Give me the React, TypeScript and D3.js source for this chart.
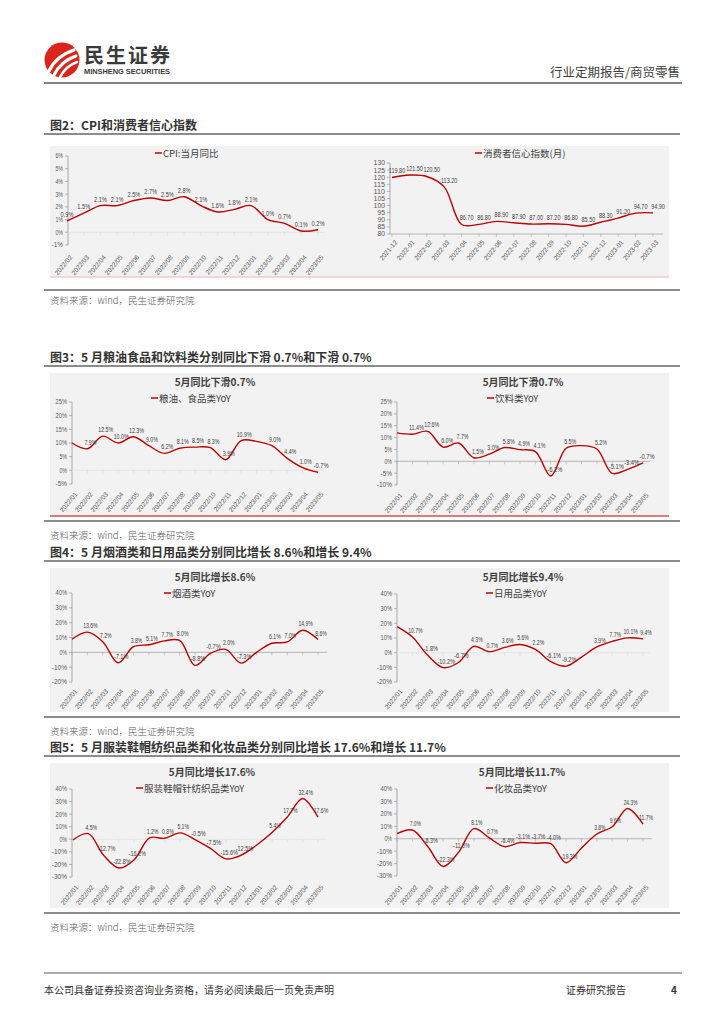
import React from "react";
import * as d3 from "d3";

// ---- data ----
const cpiMonths = ["2022/02", "2022/03", "2022/04", "2022/05", "2022/06", "2022/07", "2022/08", "2022/09", "2022/10", "2022/11", "2022/12", "2023/01", "2023/02", "2023/03", "2023/04", "2023/05"];
const cpiValues = [0.9, 1.5, 2.1, 2.1, 2.5, 2.7, 2.5, 2.8, 2.1, 1.6, 1.8, 2.1, 1.0, 0.7, 0.1, 0.2];

const confMonths = ["2021-12", "2022-01", "2022-02", "2022-03", "2022-04", "2022-05", "2022-06", "2022-07", "2022-08", "2022-09", "2022-10", "2022-11", "2022-12", "2023-01", "2023-02", "2023-03"];
const confValues = [119.8, 121.5, 120.5, 113.2, 86.7, 86.8, 88.9, 87.9, 87.0, 87.2, 86.8, 85.5, 88.3, 91.2, 94.7, 94.9];

const retailMonths = ["2022/01", "2022/02", "2022/03", "2022/04", "2022/05", "2022/06", "2022/07", "2022/08", "2022/09", "2022/10", "2022/11", "2022/12", "2023/01", "2023/02", "2023/03", "2023/04", "2023/05"];
const retailNoLabel = [0, 12];
const grainValues = [10.0, 7.9, 12.5, 10.0, 12.3, 9.0, 6.2, 8.1, 8.5, 8.3, 3.9, 10.9, 10.6, 9.0, 4.4, 1.0, -0.7];
const beverageValues = [12.0, 11.4, 12.6, 6.0, 7.7, 1.5, 3.0, 5.8, 4.9, 4.1, -6.2, 5.5, 6.6, 5.2, -5.1, -3.4, -0.7];
const tobaccoValues = [8.8, 13.6, 7.2, -7.1, 3.8, 5.1, 7.7, 8.0, -8.8, -0.7, 2.0, -7.3, 0.0, 6.1, 7.0, 14.9, 8.6];
const dailyValues = [17.7, 10.7, -1.8, -10.2, -6.7, 4.3, 0.7, 3.6, 5.6, 2.2, -6.1, -9.2, -3.0, 3.9, 7.7, 10.1, 9.4];
const apparelValues = [-0.5, 4.5, -12.7, -22.8, -16.2, 1.2, 0.8, 5.1, -0.5, -7.5, -15.6, -12.5, -4.5, 5.4, 17.7, 32.4, 17.6];
const cosmeticsValues = [4.0, 7.0, -6.3, -22.3, -11.0, 8.1, 0.7, -6.4, -3.1, -3.7, -4.0, -19.3, -7.5, 3.8, 9.6, 24.3, 11.7];

const RED = "#c00000";
const CJK = "'Noto Sans CJK SC', sans-serif";
const NUM = "'Liberation Sans', Arial, sans-serif";

type ChartCfg = {
  cats: string[];
  values: number[];
  hidden: number[];
  pct: boolean;
  dom: [number, number];
  step: number;
  x0: number;
  x1: number;
  yTop: number;
  yBot: number;
  axisX: number;
  axisEnd: number;
  baseAtBottom?: boolean;
  strongBase: boolean;
  title?: string;
  titleX?: number;
  titleY?: number;
  legend: string;
  legX: number;
  legY: number;
  tickLabelY: number;
  labelDx: number;
  charW: number;
};

function LineChart({ c }: { c: ChartCfg }) {
  const x = d3.scalePoint<string>().domain(c.cats).range([c.x0, c.x1]);
  const y = d3.scaleLinear().domain(c.dom).range([c.yBot, c.yTop]);
  const ticks = d3.range(c.dom[0], c.dom[1] + c.step / 2, c.step);
  const line = d3
    .line<number>()
    .x((_, i) => x(c.cats[i]) as number)
    .y((d) => y(d))
    .curve(d3.curveCatmullRom.alpha(0.5));
  const baseY = c.baseAtBottom ? c.yBot : y(0);
  const fmt = (v: number) => (c.pct ? `${v.toFixed(1)}%` : v.toFixed(2));
  const tickFmt = (v: number) => (c.pct ? `${v}%` : `${v}`);

  return (
    <g>
      {c.title && (
        <text x={c.titleX} y={c.titleY} textAnchor="middle" fontFamily={CJK} fontWeight={700} fontSize={10} fill="#404040">
          {c.title}
        </text>
      )}
      <line x1={c.legX} x2={c.legX + 7} y1={c.legY} y2={c.legY} stroke={RED} strokeWidth={1.5} />
      <text x={c.legX + 8} y={c.legY + 4} fontFamily={CJK} fontSize={9.5} fill="#404040">
        {c.legend}
      </text>

      {/* y axis */}
      <line x1={c.axisX} x2={c.axisX} y1={c.yTop} y2={c.yBot} stroke="#8c8c8c" strokeWidth={0.7} />
      {ticks.map((t) => {
        const s = tickFmt(t);
        return (
          <g key={t}>
            <line x1={c.axisX - 3} x2={c.axisX} y1={y(t)} y2={y(t)} stroke="#8c8c8c" strokeWidth={0.6} />
            <text
              x={c.axisX - 5}
              y={y(t)}
              dy="0.35em"
              textAnchor="end"
              fontFamily={NUM}
              fontSize={7}
              fill="#595959"
              textLength={s.length * 3.8}
              lengthAdjust="spacingAndGlyphs"
            >
              {s}
            </text>
          </g>
        );
      })}

      {/* x axis */}
      <line x1={c.axisX} x2={c.axisEnd} y1={baseY} y2={baseY} stroke={c.strongBase ? "#a6a6a6" : "#e2e2e2"} strokeWidth={0.8} />
      {c.cats.map((cat) => (
        <line key={cat} x1={x(cat)} x2={x(cat)} y1={baseY} y2={baseY + 3} stroke={c.strongBase ? "#a6a6a6" : "#d9d9d9"} strokeWidth={0.6} />
      ))}

      <path d={line(c.values) || ""} fill="none" stroke={RED} strokeWidth={1.4} />

      {c.values.map((v, i) => {
        if (c.hidden.includes(i)) return null;
        const s = fmt(v);
        return (
          <text
            key={i}
            x={(x(c.cats[i]) as number) + c.labelDx}
            y={y(v) - 4}
            textAnchor="middle"
            fontFamily={NUM}
            fontSize={7}
            fill="#404040"
            textLength={s.length * c.charW}
            lengthAdjust="spacingAndGlyphs"
          >
            {s}
          </text>
        );
      })}

      {c.cats.map((cat) => (
        <text
          key={cat}
          transform={`translate(${(x(cat) as number) + 4},${c.tickLabelY}) rotate(-50)`}
          textAnchor="end"
          dy="0.35em"
          fontFamily={NUM}
          fontSize={6.5}
          fill="#595959"
        >
          {cat}
        </text>
      ))}
    </g>
  );
}

const charts: ChartCfg[] = [
  {
    cats: cpiMonths, values: cpiValues, hidden: [], pct: true, dom: [-1, 6], step: 1,
    x0: 67, x1: 318, yTop: 156, yBot: 245, axisX: 68, axisEnd: 325, strongBase: false,
    legend: "CPI:当月同比", legX: 155, legY: 153, tickLabelY: 256, labelDx: 0, charW: 3.2,
  },
  {
    cats: confMonths, values: confValues, hidden: [], pct: false, dom: [80, 130], step: 5,
    x0: 392, x1: 653, yTop: 163, yBot: 234, axisX: 390, axisEnd: 663, baseAtBottom: true, strongBase: true,
    legend: "消费者信心指数(月)", legX: 475, legY: 153, tickLabelY: 241, labelDx: 5, charW: 2.75,
  },
  {
    cats: retailMonths, values: grainValues, hidden: retailNoLabel, pct: true, dom: [-5, 25], step: 5,
    x0: 72, x1: 318, yTop: 402, yBot: 484, axisX: 72, axisEnd: 325, strongBase: false,
    title: "5月同比下滑0.7%", titleX: 215, titleY: 386,
    legend: "粮油、食品类YoY", legX: 151, legY: 398, tickLabelY: 493, labelDx: 3, charW: 3.0,
  },
  {
    cats: retailMonths, values: beverageValues, hidden: retailNoLabel, pct: true, dom: [-10, 25], step: 5,
    x0: 397, x1: 643, yTop: 402, yBot: 485, axisX: 397, axisEnd: 650, strongBase: true,
    title: "5月同比下滑0.7%", titleX: 523, titleY: 386,
    legend: "饮料类YoY", legX: 487, legY: 398, tickLabelY: 494, labelDx: 4, charW: 3.0,
  },
  {
    cats: retailMonths, values: tobaccoValues, hidden: retailNoLabel, pct: true, dom: [-20, 40], step: 10,
    x0: 72, x1: 318, yTop: 593, yBot: 682, axisX: 72, axisEnd: 327, strongBase: true,
    title: "5月同比增长8.6%", titleX: 215, titleY: 581,
    legend: "烟酒类YoY", legX: 164, legY: 593, tickLabelY: 690, labelDx: 3, charW: 2.9,
  },
  {
    cats: retailMonths, values: dailyValues, hidden: retailNoLabel, pct: true, dom: [-20, 40], step: 10,
    x0: 397, x1: 643, yTop: 594, yBot: 682, axisX: 397, axisEnd: 650, strongBase: false,
    title: "5月同比增长9.4%", titleX: 523, titleY: 581,
    legend: "日用品类YoY", legX: 486, legY: 593, tickLabelY: 690, labelDx: 3, charW: 2.9,
  },
  {
    cats: retailMonths, values: apparelValues, hidden: retailNoLabel, pct: true, dom: [-30, 40], step: 10,
    x0: 73, x1: 318, yTop: 789, yBot: 877, axisX: 72, axisEnd: 327, strongBase: false,
    title: "5月同比增长17.6%", titleX: 212, titleY: 776,
    legend: "服装鞋帽针纺织品类YoY", legX: 136, legY: 788, tickLabelY: 886, labelDx: 3, charW: 2.9,
  },
  {
    cats: retailMonths, values: cosmeticsValues, hidden: retailNoLabel, pct: true, dom: [-30, 40], step: 10,
    x0: 397, x1: 643, yTop: 789, yBot: 876, axisX: 397, axisEnd: 652, strongBase: true,
    title: "5月同比增长11.7%", titleX: 522, titleY: 776,
    legend: "化妆品类YoY", legX: 486, legY: 788, tickLabelY: 886, labelDx: 3, charW: 2.8,
  },
];

const sections = [
  { title: "图2：CPI和消费者信心指数", titleY: 130, ulY: 134, top: 146, bottom: 277, bottomLine: "#f0b4b4", endY: 290, srcY: 304 },
  { title: "图3：5 月粮油食品和饮料类分别同比下滑 0.7%和下滑 0.7%", titleY: 362, ulY: 366, top: 373, bottom: 516, bottomLine: RED, endY: 521, srcY: 539 },
  { title: "图4：5 月烟酒类和日用品类分别同比增长 8.6%和增长 9.4%", titleY: 557, ulY: 561, top: 568, bottom: 712, bottomLine: "", endY: 717, srcY: 735 },
  { title: "图5：5 月服装鞋帽纺织品类和化妆品类分别同比增长 17.6%和增长 11.7%", titleY: 752, ulY: 756, top: 763, bottom: 908, bottomLine: "", endY: 913, srcY: 931 },
];

export default function App() {
  return (
    <svg width={724} height={1024} style={{ position: "absolute", left: 0, top: 0, display: "block", background: "#fff" }}>
      <rect width={724} height={1024} fill="#fff" />

      {/* header */}
      <circle cx={62} cy={60} r={17.5} fill="#d9261c" />
      <path d="M49,71 Q56,56 74,50" stroke="#fff" strokeWidth={3.2} fill="none" strokeLinecap="round" />
      <path d="M54,75 Q61,61 76,56" stroke="#fff" strokeWidth={3} fill="none" strokeLinecap="round" />
      <path d="M60,77 Q66,66 77,62" stroke="#fff" strokeWidth={2.6} fill="none" strokeLinecap="round" />
      <text x={84} y={63} fontFamily={CJK} fontWeight={700} fontSize={20} fill="#3a3a3a" textLength={86}>
        民生证券
      </text>
      <text x={84} y={74} fontFamily="'Liberation Sans', Arial, sans-serif" fontWeight={700} fontSize={6.8} fill="#3a3a3a" textLength={86} lengthAdjust="spacingAndGlyphs">
        MINSHENG SECURITIES
      </text>
      <text x={680} y={77} textAnchor="end" fontFamily={CJK} fontSize={12.5} fill="#404040">
        行业定期报告/商贸零售
      </text>
      <line x1={44} x2={682} y1={83} y2={83} stroke="#5a5a5a" strokeWidth={1.5} />

      {sections.map((s) => (
        <g key={s.title}>
          <text x={50} y={s.titleY} fontFamily={CJK} fontWeight={700} fontSize={12} fill="#333">
            {s.title}
          </text>
          <line x1={44} x2={680} y1={s.ulY} y2={s.ulY} stroke="#666" strokeWidth={1.6} />
          <rect x={50} y={s.top} width={619} height={s.bottom - s.top} fill="#f2f2f2" />
          {s.bottomLine && <line x1={50} x2={669} y1={s.bottom} y2={s.bottom} stroke={s.bottomLine} strokeWidth={1} />}
          <line x1={44} x2={680} y1={s.endY} y2={s.endY} stroke="#666" strokeWidth={1.6} />
          <text x={50} y={s.srcY} fontFamily={CJK} fontSize={9.5} fontWeight={300} fill="#595959">
            资料来源：wind，民生证券研究院
          </text>
        </g>
      ))}

      {charts.map((c, i) => (
        <LineChart key={i} c={c} />
      ))}

      {/* footer */}
      <line x1={44} x2={682} y1={973} y2={973} stroke="#5a5a5a" strokeWidth={1.2} />
      <text x={44} y={994} fontFamily={CJK} fontSize={10} fill="#333">
        本公司具备证券投资咨询业务资格，请务必阅读最后一页免责声明
      </text>
      <text x={566} y={994} fontFamily={CJK} fontSize={10} fill="#333">
        证券研究报告
      </text>
      <text x={671} y={994} fontFamily={CJK} fontWeight={700} fontSize={10} fill="#333">
        4
      </text>
    </svg>
  );
}
